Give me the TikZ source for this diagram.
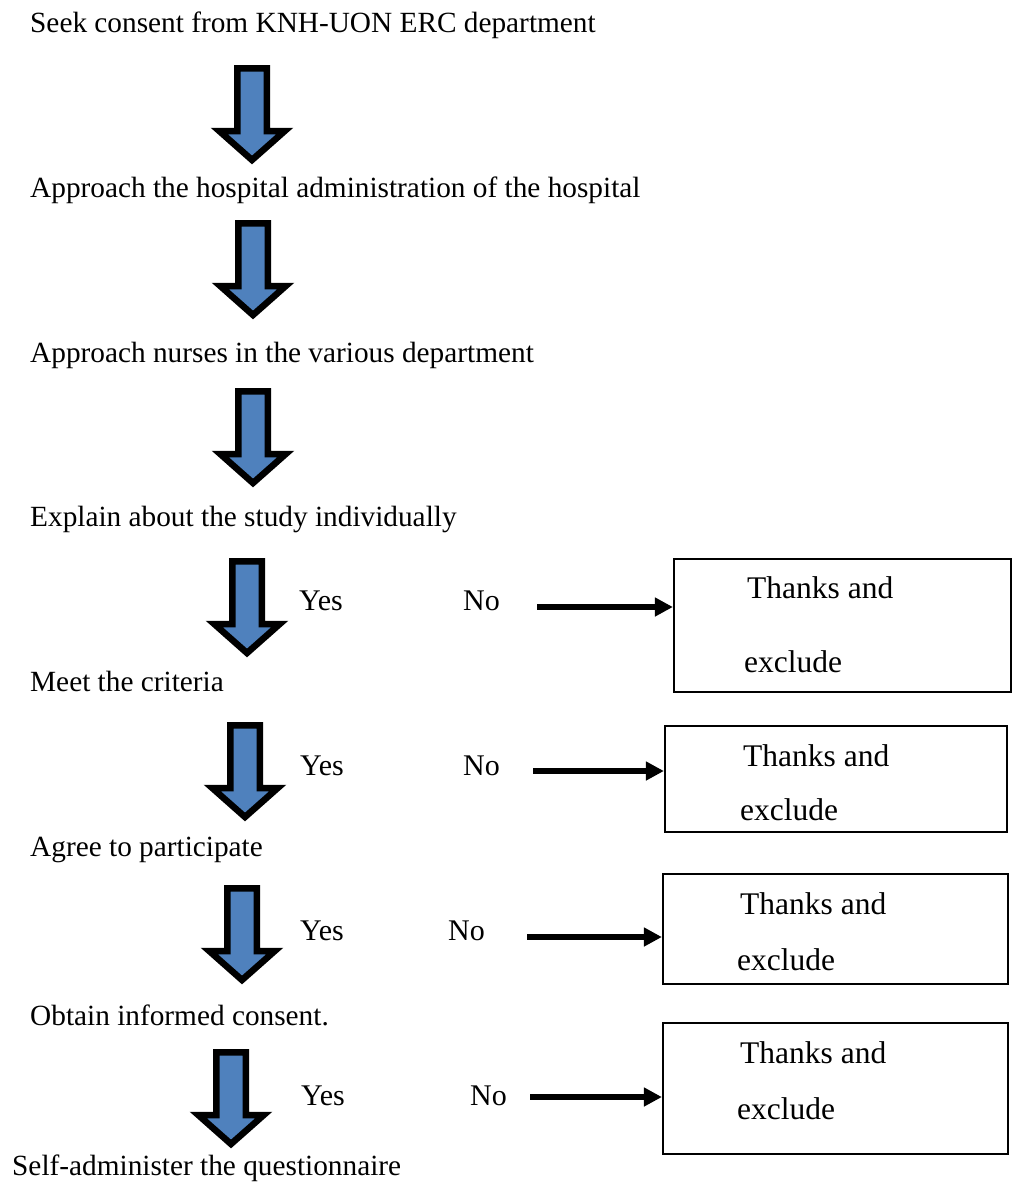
\documentclass[tikz,border=0pt]{standalone}
\usepackage{fontspec}
\setmainfont{Liberation Serif}
\usetikzlibrary{arrows.meta}

\definecolor{arrowblue}{RGB}{79,129,189}

\begin{document}
\begin{tikzpicture}[
  x=1pt,y=-1pt,
  stepnode/.style={anchor=base west,inner sep=0pt,font=\fontsize{29.3pt}{35pt}\selectfont},
  yesno/.style={anchor=base west,inner sep=0pt,font=\fontsize{30pt}{36pt}\selectfont},
  exnote/.style={anchor=base west,inner sep=0pt,font=\fontsize{31.5pt}{38pt}\selectfont},
  exbox/.style={draw,line width=2.2pt,inner sep=0pt},
  blockarrow/.style={draw,fill=arrowblue,line width=6.5pt,line join=miter},
  noarrow/.style={-{Triangle[length=18pt,width=18pt]},line width=5.5pt}
]
\useasboundingbox (0,0) rectangle (1014,1194);

% steps down the left side
\node[stepnode] (seek) at (30,32) {Seek consent from KNH-UON ERC department};
\node[stepnode] (admin) at (30,197) {Approach the hospital administration of the hospital};
\node[stepnode] (nurses) at (30,362) {Approach nurses in the various department};
\node[stepnode] (explain) at (30,526) {Explain about the study individually};
\node[stepnode] (criteria) at (30,691) {Meet the criteria};
\node[stepnode] (agree) at (30,856) {Agree to participate};
\node[stepnode] (consent) at (30,1025) {Obtain informed consent.};
\node[stepnode] (selfadmin) at (12,1175) {Self-administer the questionnaire};

% block arrows between the steps
\foreach \cx/\ty in {252/65,253/220,253/388,247/558,245/722,242/885,231/1049}{
  \draw[blockarrow] (\cx-14.75,\ty+3.25) -- ++(29.5,0) -- ++(0,62.75) -- ++(18,0)
    -- ++(-32.75,29) -- ++(-32.75,-29) -- ++(18,0) -- cycle;
}

% yes / no branches
\node[yesno] (yes1) at (299,610) {Yes};
\node[yesno] (no1) at (463,610) {No};
\node[exbox,minimum width=337,minimum height=133] (ex1) at (842.5,625.5) {};
\node[exnote] at (747,598) {Thanks and};
\node[exnote] at (744,672) {exclude};
\coordinate (n1) at (537,607);
\draw[noarrow] (n1) -- (n1 -| ex1.west);

\node[yesno] (yes2) at (300,775) {Yes};
\node[yesno] (no2) at (463,775) {No};
\node[exbox,minimum width=342,minimum height=106] (ex2) at (836,779) {};
\node[exnote] at (743,766) {Thanks and};
\node[exnote] at (740,820) {exclude};
\coordinate (n2) at (533,771);
\draw[noarrow] (n2) -- (n2 -| ex2.west);

\node[yesno] (yes3) at (300,940) {Yes};
\node[yesno] (no3) at (448,940) {No};
\node[exbox,minimum width=345,minimum height=110] (ex3) at (835.5,929) {};
\node[exnote] at (740,914) {Thanks and};
\node[exnote] at (737,970) {exclude};
\coordinate (n3) at (527,937);
\draw[noarrow] (n3) -- (n3 -| ex3.west);

\node[yesno] (yes4) at (301,1105) {Yes};
\node[yesno] (no4) at (470,1105) {No};
\node[exbox,minimum width=345,minimum height=131] (ex4) at (835.5,1088.5) {};
\node[exnote] at (740,1063) {Thanks and};
\node[exnote] at (737,1119) {exclude};
\coordinate (n4) at (530,1097);
\draw[noarrow] (n4) -- (n4 -| ex4.west);
\end{tikzpicture}
\end{document}
